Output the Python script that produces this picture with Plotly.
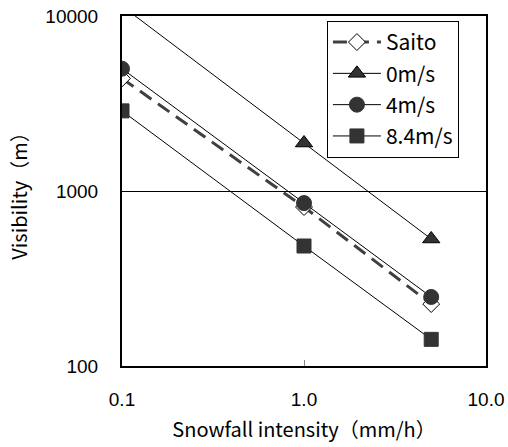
import plotly.graph_objects as go

snowfall = [0.1, 1.0, 5.0]
saito = [4400, 810, 226]
wind_0 = [11400, 1880, 532]
wind_4 = [5000, 853, 248]
wind_84 = [2870, 485, 142]

x_ticks = [0.1, 1, 10]
x_ticktext = ["0.1", "1.0", "10.0"]
y_ticks = [100, 1000, 10000]
y_ticktext = ["100", "1000", "10000"]

JP = "Noto Sans CJK JP, sans-serif"
AR = "Liberation Sans, Arial, sans-serif"
MK = "#333333"

fig = go.Figure()
fig.add_trace(go.Scatter(
    x=snowfall, y=saito, name="Saito", mode="lines+markers", legendgroup="a",
    line=dict(color="#404040", width=3, dash="14px,8px"),
    marker=dict(symbol="diamond", size=13, color="white", line=dict(color="black", width=1)),
))
fig.add_trace(go.Scatter(
    x=snowfall, y=wind_0, name="0m/s", mode="lines+markers", legendgroup="b",
    line=dict(color="black", width=1),
    marker=dict(symbol="triangle-up", size=15, color=MK, line=dict(color="black", width=1)),
))
fig.add_trace(go.Scatter(
    x=snowfall, y=wind_4, name="4m/s", mode="lines+markers", legendgroup="c",
    line=dict(color="black", width=1),
    marker=dict(symbol="circle", size=15, color=MK, line=dict(color=MK, width=1)),
))
fig.add_trace(go.Scatter(
    x=snowfall, y=wind_84, name="8.4m/s", mode="lines+markers", legendgroup="d",
    line=dict(color="black", width=1),
    marker=dict(symbol="square", size=14, color=MK, line=dict(color=MK, width=1)),
))

fig.update_layout(
    width=508, height=447,
    margin=dict(l=122, r=22, t=16, b=81, autoexpand=False),
    paper_bgcolor="white", plot_bgcolor="white",
    showlegend=True,
    legend=dict(
        x=0.563, y=0.986, xanchor="left", yanchor="top",
        bordercolor="black", borderwidth=1, bgcolor="white",
        font=dict(family=JP, size=21, color="black"),
        traceorder="grouped", tracegroupgap=1, itemwidth=48,
    ),
)
fig.update_xaxes(
    type="log", range=[-1, 1], automargin=False,
    tickvals=x_ticks, ticktext=x_ticktext,
    tickfont=dict(family=AR, size=19, color="black"),
    ticks="inside", ticklen=6, tickcolor="#888888", tickwidth=1,
    ticklabelstandoff=15,
    showgrid=False, zeroline=False,
    showline=True, mirror=True, linecolor="black", linewidth=2,
    title=dict(text="Snowfall intensity（mm/h）", font=dict(family=JP, size=20, color="black"), standoff=14),
)
fig.update_yaxes(
    type="log", range=[2, 4], automargin=False,
    tickvals=y_ticks, ticktext=y_ticktext,
    tickfont=dict(family=AR, size=19, color="black"),
    ticks="", ticklabelstandoff=18,
    showgrid=True, gridcolor="black", gridwidth=1,
    zeroline=False,
    showline=True, mirror=True, linecolor="black", linewidth=2,
    title=dict(text="Visibility（m）", font=dict(family=JP, size=20, color="black"), standoff=12),
)

fig.write_html("out.html")
